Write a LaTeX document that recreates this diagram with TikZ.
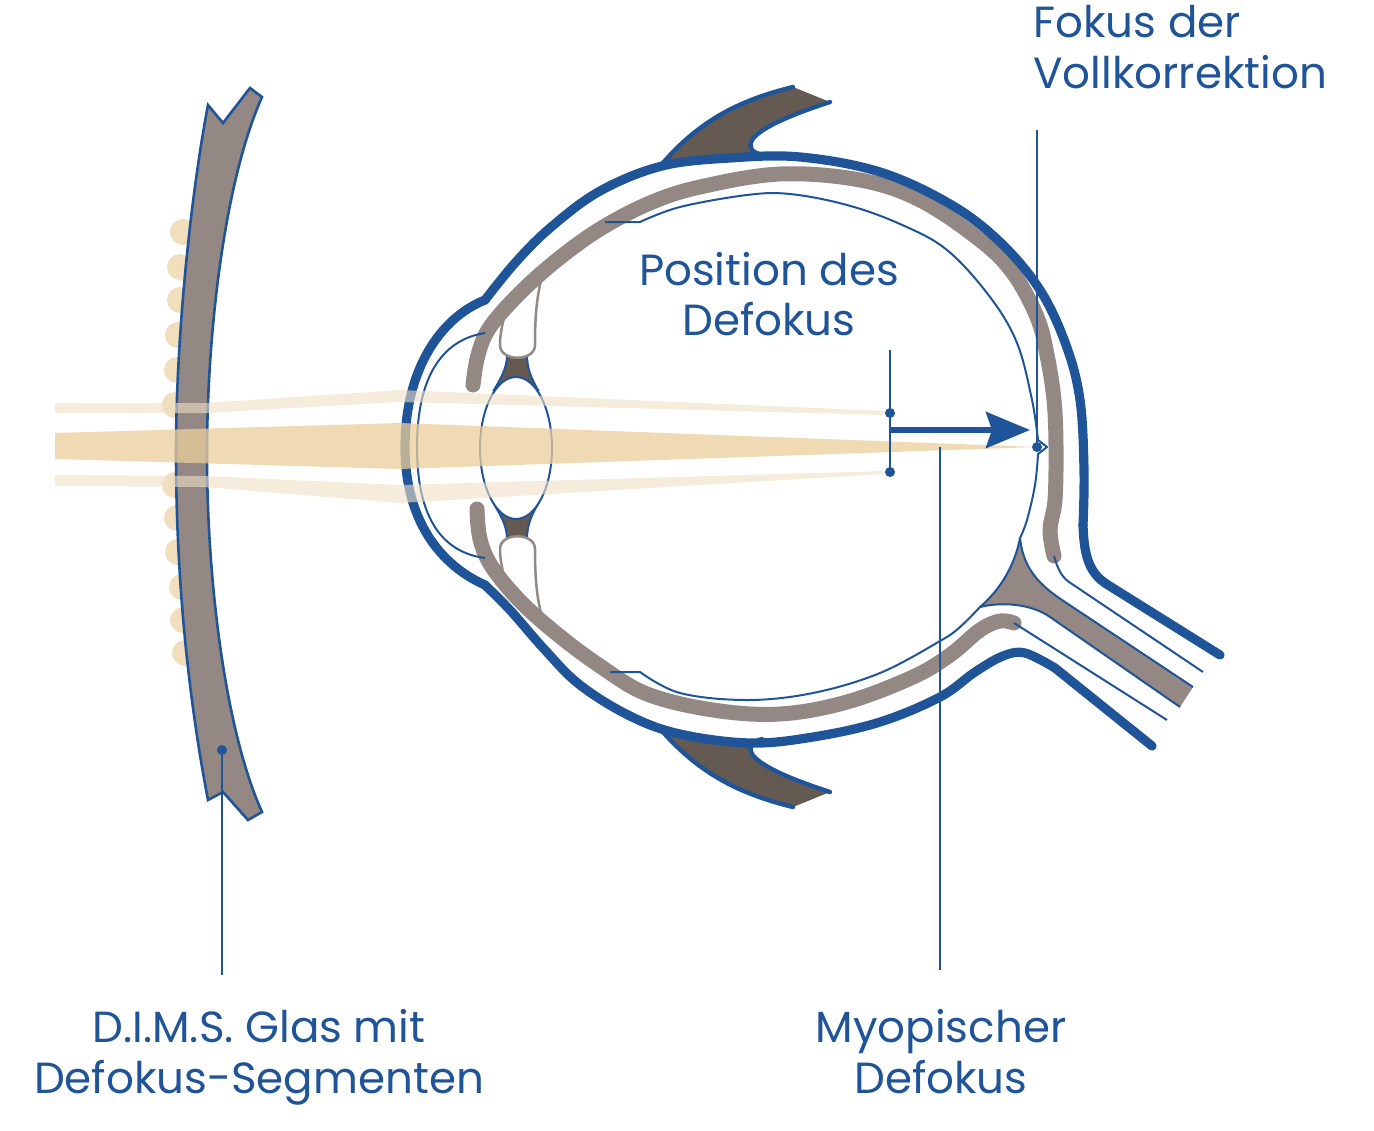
\documentclass[tikz,border=0pt]{standalone}
\usepackage{fontspec}
\setmainfont{Poppins}
\usetikzlibrary{arrows.meta}
\definecolor{dblue}{HTML}{1F5499}
\definecolor{lgray}{HTML}{938883}
\definecolor{dbrown}{HTML}{645A52}
\definecolor{beam}{RGB}{235,206,155}
\definecolor{fbeam}{RGB}{240,223,197}
\definecolor{bump}{RGB}{240,222,188}
\begin{document}
\begin{tikzpicture}[x=0.5pt,y=-0.5pt,
  sclera/.style={draw=dblue,line width=4.6pt,line cap=round,line join=round},
  choroid/.style={draw=lgray,line width=7.5pt,line cap=round,line join=round},
  thinb/.style={draw=dblue,line width=1pt,line join=round},
  leader/.style={draw=dblue,line width=0.8pt},
  lbl/.style={text=dblue,font=\fontsize{21.8pt}{26pt}\selectfont,inner sep=0pt},
  dotm/.style={fill=dblue,circle,inner sep=0pt,minimum size=5pt},
  lidedge/.style={draw=dblue,line width=2.2pt,line cap=round},
  bumpc/.style={fill=bump}]
\useasboundingbox (0,0) rectangle (1374,1130);

% defocus segments
\foreach \yy/\xx in {232/183,267/180,300/180,335/178,370/177,405/175,485/175,518/177,552/178,587/182,620/183,653/185}
  \fill[bumpc] (\xx,\yy) circle[radius=6.5pt];

% spectacle lens
\filldraw[fill=lgray,draw=dblue,line width=1.3pt,line join=miter]
  (208,105) -- (223,123) -- (250,88) -- (262,97)
  .. controls (225,180) and (207,330) .. (207,455)
  .. controls (207,580) and (225,730) .. (262,812)
  -- (248,820) -- (223,792) -- (208,800)
  .. controls (185,680) and (176,560) .. (176,452)
  .. controls (176,340) and (190,200) .. (208,105) -- cycle;

% eyelids
\fill[dbrown] (662,164) .. controls (700,120) and (740,100) .. (793,87) -- (830,102)
  .. controls (790,115) and (760,128) .. (752,140) .. controls (748,148) and (752,152) .. (762,157)
  -- (730,158) -- (662,166) -- cycle;
\draw[lidedge] (662,164) .. controls (700,120) and (740,100) .. (793,87);
\draw[lidedge] (830,102) .. controls (790,115) and (760,128) .. (752,140) .. controls (748,148) and (752,152) .. (762,155);
\fill[dbrown] (662,731) .. controls (700,774) and (740,794) .. (793,807) -- (830,792)
  .. controls (790,779) and (760,766) .. (752,754) .. controls (748,746) and (752,742) .. (762,740)
  -- (700,736) -- (662,730) -- cycle;
\draw[lidedge] (662,731) .. controls (700,774) and (740,794) .. (793,807);
\draw[lidedge] (830,792) .. controls (790,779) and (760,766) .. (752,754) .. controls (748,746) and (752,742) .. (762,739);

% optic nerve body
\fill[lgray] (1020,538) .. controls (1015,565) and (1000,590) .. (980,607)
  .. controls (1000,602) and (1030,603) .. (1050,617) -- (1180,707) -- (1193,687)
  -- (1062,600) .. controls (1035,582) and (1023,565) .. (1020,538) -- cycle;

% zonule wedges
\filldraw[fill=dbrown,draw=dblue,line width=1pt] (507,355) .. controls (507,368) and (501,378) .. (494,390)
  -- (538,390) .. controls (531,378) and (527,368) .. (527,355) -- cycle;
\filldraw[fill=dbrown,draw=dblue,line width=1pt] (507,539) .. controls (507,526) and (501,516) .. (494,504)
  -- (538,504) .. controls (531,516) and (527,526) .. (527,539) -- cycle;

% ciliary bodies
\filldraw[fill=white,draw=lgray,line width=1.25pt] (512,292) .. controls (505,312) and (500,330) .. (500,345)
  .. controls (500,362) and (535,362) .. (535,345) .. controls (535,320) and (536,295) .. (544,270);
\filldraw[fill=white,draw=lgray,line width=1.25pt] (512,602) .. controls (505,582) and (500,564) .. (500,549)
  .. controls (500,532) and (535,532) .. (535,549) .. controls (535,574) and (536,599) .. (544,624);

% choroid (gray band)
\draw[choroid] plot[smooth,tension=0.6] coordinates {(473,385) (478,355) (490,327) (520,293) (557,260) (600,229) (650,203) (700,187) (780,174) (860,180) (920,200) (980,240) (1013,273) (1037,317) (1047,355) (1054,400) (1056,447) (1055,500) (1050,530) (1054,556)};
\draw[choroid] plot[smooth,tension=0.6] coordinates {(477,509) (480,539) (492,567) (520,601) (557,634) (600,666) (647,694) (713,710) (780,714) (847,702) (913,677) (950,655) (980,630) (1000,621) (1014,623)};

% sclera (outer blue)
\draw[sclera] (1220,655) -- (1108,585) .. controls (1090,574) and (1084,558) .. (1083,525);
\draw[sclera] plot[smooth,tension=0.6] coordinates {(1083,525) (1084,470) (1080,400) (1066,345) (1040,290) (1000,242) (950,204) (880,172) (800,157) (730,158) (662,166) (600,191) (550,228) (515,263) (485,300)};
\draw[sclera] (485,300) .. controls (440,318) and (405,370) .. (405,447) .. controls (405,520) and (440,565) .. (485,585);
\draw[sclera] plot[smooth,tension=0.6] coordinates {(485,585) (510,610) (545,650) (580,685) (630,716) (680,734) (750,743) (813,737) (880,722) (940,697) (975,672) (1003,656) (1025,653) (1055,668)} -- (1152,746);

% retina
\draw[thinb] (605,222) -- plot[smooth,tension=0.6] coordinates {(640,222) (680,207) (747,195) (790,194) (847,205) (900,224) (947,250) (990,297) (1017,343) (1032,400) (1038,440)}
  -- (1047,447) -- (1038,454) -- plot[smooth,tension=0.6] coordinates {(1038,454) (1035,485) (1027,520) (1020,538)}
  .. controls (1015,565) and (1000,590) .. (980,607)
  -- plot[smooth,tension=0.6] coordinates {(980,607) (960,627) (940,641) (880,673) (813,693) (747,700) (680,693) (640,672)} -- (610,672);

% optic nerve outlines and fibres
\draw[thinb] (980,607) .. controls (1000,602) and (1030,603) .. (1050,617) -- (1180,707);
\draw[thinb] (1193,687) -- (1062,600) .. controls (1035,582) and (1023,565) .. (1020,538);
\draw[thinb] (1054,556) .. controls (1058,570) and (1062,578) .. (1072,584) -- (1203,672);
\draw[thinb] (1014,623) -- (1167,720);

% anterior chamber
\draw[thinb] (485,333) .. controls (440,340) and (417,380) .. (417,447) .. controls (417,515) and (440,552) .. (485,558);

% crystalline lens
\filldraw[fill=white,draw=dblue,line width=1pt] (516,448) ellipse [x radius=18pt, y radius=35.5pt];

% light beams
\fill[fbeam,fill opacity=0.6] (55,403) -- (205,403) -- (400,390) -- (885,411) -- (885,415) -- (400,402) -- (205,413) -- (55,413) -- cycle;
\fill[fbeam,fill opacity=0.6] (55,475) -- (205,476) -- (400,485) -- (885,471) -- (885,474) -- (400,503) -- (205,487) -- (55,486) -- cycle;
\fill[beam,fill opacity=0.75] (55,433) -- (400,423) -- (1037,447) -- (400,469) -- (55,459) -- cycle;

% markers
\coordinate (pdtop) at (890,350);
\node[dotm] (pd1) at (890,413) {};
\node[dotm] (pd2) at (890,472) {};
\draw[leader] (pdtop) -- (pd2.center);
\coordinate (arS) at (890,430);
\coordinate (arE) at (1030,430);
\draw[dblue,line width=3pt,-{Stealth[length=22pt,width=18pt,inset=3pt]}] (arS) -- (arE);

\node[dotm] (fk) at (1037,447) {};
\coordinate (fktop) at (1037,130);
\draw[leader] (fktop) -- (fk.center);

\coordinate (myA) at (940,447);
\coordinate (myB) at (940,970);
\draw[leader] (myA) -- (myB);

\node[dotm] (dm) at (222,750) {};
\coordinate (dmB) at (222,975);
\draw[leader] (dm.center) -- (dmB);

% labels
\node[lbl,anchor=base west] (t1) at (1033,37) {Fokus der};
\node[lbl,anchor=base west] (t2) at (1033,88) {Vollkorrektion};
\node[lbl,anchor=base] (t3) at (769,285) {Position des};
\node[lbl,anchor=base] (t4) at (769,335) {Defokus};
\node[lbl,anchor=base] (t5) at (259,1042) {D.I.M.S. Glas mit};
\node[lbl,anchor=base] (t6) at (259,1093) {Defokus-Segmenten};
\node[lbl,anchor=base] (t7) at (941,1042) {Myopischer};
\node[lbl,anchor=base] (t8) at (941,1093) {Defokus};
\end{tikzpicture}
\end{document}
